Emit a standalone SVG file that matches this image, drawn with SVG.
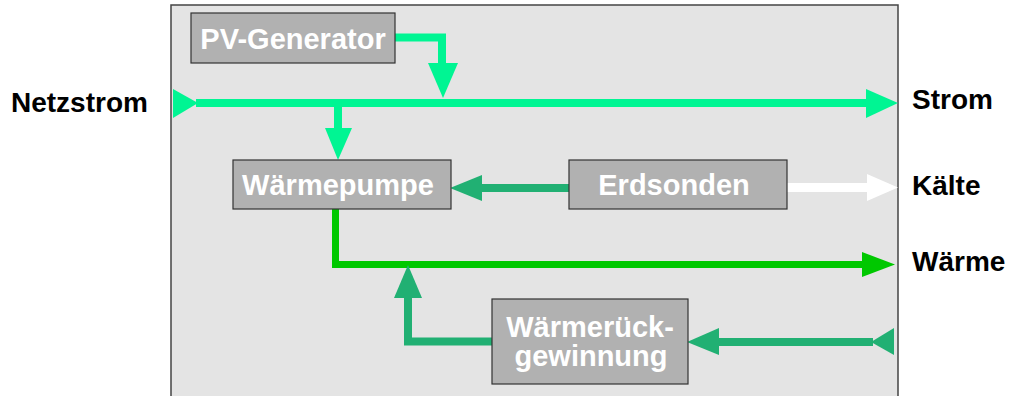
<svg xmlns="http://www.w3.org/2000/svg" width="1016" height="396" viewBox="0 0 1016 396">
<style>
.box{fill:#b1b1b1;stroke:#333;stroke-width:1.2}
.bt{fill:#fff;font-family:"Liberation Sans",Arial,sans-serif;font-weight:bold;font-size:29px;text-anchor:middle}
.lbl{fill:#000;font-family:"Liberation Sans",Arial,sans-serif;font-weight:bold;font-size:28px}
.s{stroke:#00f593;fill:none;stroke-width:8}
.sf{fill:#00f593}
.d{stroke:#21b073;fill:none;stroke-width:8}
.df{fill:#21b073}
.w{stroke:#00c800;fill:none;stroke-width:7}
.wf{fill:#00c800}
.k{stroke:#fff;fill:none;stroke-width:9}
.kf{fill:#fff}
</style>
<rect x="171" y="5" width="727" height="400" fill="#e4e4e4" stroke="#444" stroke-width="1.5"/>
<g id="connectors">
<!-- Netzstrom -> Strom -->
<polygon class="sf" points="173,89 198,103 173,118"/>
<line class="s" x1="196" y1="103" x2="868" y2="103"/>
<polygon class="sf" points="866,89 898,103 866,118"/>
<!-- PV -> Strom -->
<polyline class="s" points="395,37.5 442,37.5 442,64"/>
<polygon class="sf" points="428,63 458,63 443,98"/>
<!-- Strom -> Waermepumpe -->
<line class="s" x1="338" y1="103" x2="338" y2="130"/>
<polygon class="sf" points="325,128 352,128 338,160"/>
<!-- Erdsonden -> Waermepumpe -->
<line class="d" x1="569" y1="188" x2="480" y2="188"/>
<polygon class="df" points="482,175 482,201 450,188"/>
<!-- Kaelte -->
<line class="k" x1="787" y1="187.5" x2="869" y2="187.5"/>
<polygon class="kf" points="867,174 898,187.5 867,201"/>
<!-- Waerme -->
<polyline class="w" points="335.5,209 335.5,264.5 864,264.5"/>
<polygon class="wf" points="862,252 895,264.5 862,277"/>
<!-- Rueckgewinnung -> Waerme -->
<polyline class="d" points="492,341.5 408,341.5 408,296"/>
<polygon class="df" points="394,298 422,298 408,265"/>
<!-- incoming to Rueckgewinnung -->
<line class="d" x1="717" y1="342" x2="873" y2="342"/>
<polygon class="df" points="719,328 719,355 687,342"/>
<polygon class="df" points="894,328 894,355 871,342"/>
</g>
<g id="pv-generator">
<rect class="box" x="191" y="13" width="204" height="50"/>
<text class="bt" x="293" y="49">PV-Generator</text>
</g>
<g id="waermepumpe">
<rect class="box" x="233" y="160" width="218" height="49"/>
<text class="bt" x="338" y="195">Wärmepumpe</text>
</g>
<g id="erdsonden">
<rect class="box" x="569" y="160" width="218" height="49"/>
<text class="bt" x="674" y="195">Erdsonden</text>
</g>
<g id="waermerueckgewinnung">
<rect class="box" x="492" y="299" width="196" height="85"/>
<text class="bt" x="590" y="337">Wärmerück-</text>
<text class="bt" x="591" y="366">gewinnung</text>
</g>
<g id="labels">
<text class="lbl" x="11" y="112">Netzstrom</text>
<text class="lbl" x="912" y="109">Strom</text>
<text class="lbl" x="912" y="195">Kälte</text>
<text class="lbl" x="912" y="271">Wärme</text>
</g>
</svg>
